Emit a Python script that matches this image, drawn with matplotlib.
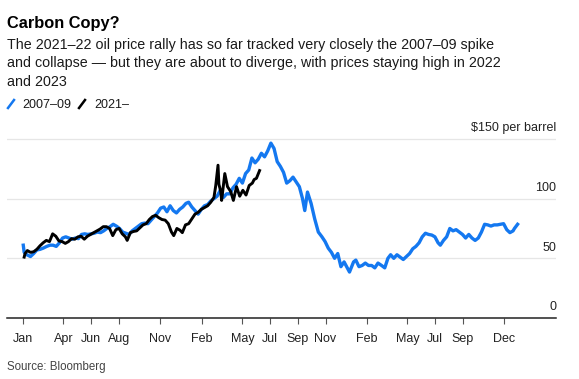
import pandas as pd
import matplotlib
matplotlib.use('Agg')
import matplotlib.pyplot as plt
from matplotlib.lines import Line2D

plt.rcParams['font.family'] = ['Liberation Sans', 'DejaVu Sans']

# 2007-09 oil price ($ per barrel)
blue_dates = [
    '2007-01-02', '2007-01-04', '2007-01-10', '2007-01-18', '2007-01-25', '2007-02-01', '2007-02-08',
    '2007-02-15', '2007-02-23', '2007-03-02', '2007-03-09', '2007-03-16', '2007-03-23', '2007-03-30',
    '2007-04-06', '2007-04-13', '2007-04-20', '2007-04-27', '2007-05-04', '2007-05-11', '2007-05-18',
    '2007-05-25', '2007-06-01', '2007-06-08', '2007-06-15', '2007-06-22', '2007-06-29', '2007-07-06',
    '2007-07-13', '2007-07-20', '2007-07-27', '2007-08-03', '2007-08-10', '2007-08-17', '2007-08-24',
    '2007-08-31', '2007-09-07', '2007-09-14', '2007-09-21', '2007-09-28', '2007-10-05', '2007-10-12',
    '2007-10-19', '2007-10-26', '2007-11-02', '2007-11-09', '2007-11-16', '2007-11-23', '2007-11-30',
    '2007-12-07', '2007-12-14', '2007-12-21', '2007-12-28',
    '2008-01-03', '2008-01-10', '2008-01-17', '2008-01-24', '2008-01-31', '2008-02-07', '2008-02-14',
    '2008-02-21', '2008-02-28', '2008-03-06', '2008-03-13', '2008-03-20', '2008-03-27', '2008-04-03',
    '2008-04-10', '2008-04-17', '2008-04-24', '2008-05-01', '2008-05-08', '2008-05-15', '2008-05-22',
    '2008-05-29', '2008-06-05', '2008-06-12', '2008-06-19', '2008-06-26', '2008-07-03', '2008-07-10',
    '2008-07-17', '2008-07-24', '2008-07-31', '2008-08-07', '2008-08-14', '2008-08-21', '2008-08-28',
    '2008-09-04', '2008-09-11', '2008-09-16', '2008-09-22', '2008-09-30', '2008-10-08', '2008-10-16',
    '2008-10-24', '2008-10-31', '2008-11-07', '2008-11-14', '2008-11-21', '2008-11-28', '2008-12-05',
    '2008-12-12', '2008-12-19', '2008-12-24',
    '2009-01-02', '2009-01-07', '2009-01-14', '2009-01-21', '2009-01-28', '2009-02-04', '2009-02-11',
    '2009-02-18', '2009-02-25', '2009-03-05', '2009-03-12', '2009-03-19', '2009-03-25', '2009-04-01',
    '2009-04-08', '2009-04-15', '2009-04-22', '2009-04-29', '2009-05-06', '2009-05-13', '2009-05-20',
    '2009-05-27', '2009-06-03', '2009-06-10', '2009-06-17', '2009-06-24', '2009-07-01', '2009-07-08',
    '2009-07-13', '2009-07-20', '2009-07-27', '2009-08-03', '2009-08-10', '2009-08-17', '2009-08-24',
    '2009-08-31', '2009-09-07', '2009-09-14', '2009-09-21', '2009-09-28', '2009-10-05', '2009-10-12',
    '2009-10-19', '2009-10-26', '2009-11-02', '2009-11-09', '2009-11-16', '2009-11-23', '2009-11-30',
    '2009-12-07', '2009-12-14', '2009-12-21', '2009-12-24', '2009-12-31',
]
blue_values = [
    61, 55, 53, 51.5, 54, 57, 57.5,
    58.5, 60, 61, 61, 60, 63, 67,
    68, 67, 66, 67, 66.5, 70, 70.5,
    70, 70.5, 71, 72, 71.5, 73, 75,
    76.5, 78.5, 77, 75, 72, 71, 70,
    73, 75, 77, 79, 79.5, 79, 82,
    85, 88, 92, 93, 89, 94, 90,
    88, 91, 93, 96,
    97, 93, 90, 87, 91, 94, 95,
    98, 100, 102, 107, 101, 104, 104,
    109, 112, 117, 113, 121, 124, 134,
    130, 133, 138, 135, 140, 146.5, 142,
    131, 127, 122, 113, 115, 118, 114,
    110, 100, 90, 105.5, 96, 83, 72,
    68, 64, 58.5, 55, 50, 54, 43,
    47, 42, 38.5,
    47, 48.5, 43, 44, 46, 44, 44,
    42, 46, 44, 42, 50, 53, 50,
    53, 51, 49, 51.5, 54, 58, 60,
    63, 68, 71, 70, 69.5, 68, 63,
    61, 65, 68, 75, 73, 74, 72,
    70, 67, 70, 67, 65, 67, 72,
    78.5, 78, 77, 78, 78, 78.5, 79,
    74, 71.5, 73, 75, 78.5,
]

# 2021-22 oil price ($ per barrel), drawn on the same calendar
black_dates = [
    '2021-01-04', '2021-01-06', '2021-01-11', '2021-01-18', '2021-01-25', '2021-02-01', '2021-02-08',
    '2021-02-15', '2021-02-22', '2021-03-01', '2021-03-08', '2021-03-15', '2021-03-22', '2021-03-29',
    '2021-04-05', '2021-04-12', '2021-04-19', '2021-04-26', '2021-05-03', '2021-05-10', '2021-05-17',
    '2021-05-24', '2021-05-31', '2021-06-07', '2021-06-14', '2021-06-21', '2021-06-28', '2021-07-05',
    '2021-07-12', '2021-07-19', '2021-07-26', '2021-08-02', '2021-08-09', '2021-08-16', '2021-08-20',
    '2021-08-27', '2021-09-03', '2021-09-10', '2021-09-17', '2021-09-24', '2021-10-01', '2021-10-08',
    '2021-10-15', '2021-10-22', '2021-10-29', '2021-11-05', '2021-11-12', '2021-11-19', '2021-11-26',
    '2021-12-01', '2021-12-08', '2021-12-15', '2021-12-20', '2021-12-27',
    '2022-01-03', '2022-01-10', '2022-01-17', '2022-01-24', '2022-01-31', '2022-02-07', '2022-02-14',
    '2022-02-21', '2022-02-28', '2022-03-03', '2022-03-08', '2022-03-10', '2022-03-14', '2022-03-16',
    '2022-03-23', '2022-03-29', '2022-04-05', '2022-04-11', '2022-04-18', '2022-04-25', '2022-05-02',
    '2022-05-09', '2022-05-16', '2022-05-23', '2022-05-27', '2022-06-01', '2022-06-08',
]
black_values = [
    51, 54, 56.5, 55, 55.5, 57.5, 60.5,
    63, 65, 64, 70.5, 68.5, 64.5, 64,
    62.5, 64, 66.5, 66, 68, 68.5, 66,
    68.5, 70, 71.5, 73, 74.5, 76.5, 76.5,
    75, 69, 74, 75, 70.5, 68, 65,
    71.5, 72.5, 73, 75.5, 78, 79, 82.5,
    85, 86, 84, 82.5, 82, 79, 72,
    69, 75, 73.5, 71.5, 78,
    79, 83, 87, 88.5, 91, 92.5, 94,
    97, 101, 111, 128, 112, 106, 98.5,
    121, 110, 106, 98.5, 110, 102, 107,
    103, 111, 113, 116, 117, 123.5,
]

tick_dates = ['2007-01-01', '2007-04-01', '2007-06-01', '2007-08-01', '2007-11-01',
              '2008-02-01', '2008-05-01', '2008-07-01', '2008-09-01', '2008-11-01',
              '2009-02-01', '2009-05-01', '2009-07-01', '2009-09-01', '2009-12-01']
tick_labels = ['Jan', 'Apr', 'Jun', 'Aug', 'Nov', 'Feb', 'May', 'Jul', 'Sep', 'Nov',
               'Feb', 'May', 'Jul', 'Sep', 'Dec']
y_levels = [0, 50, 100, 150]
y_labels = ['0', '50', '100', '$150 per barrel']

BLUE = '#1478f0'
W, H = 579, 379

fig = plt.figure(figsize=(W / 100, H / 100), dpi=100)


def fx(px):
    return px / W


def fy(py):
    return 1 - py / H


ax = fig.add_axes([fx(7), fy(318), fx(556) - fx(7), fy(127) - fy(318)])

bx = pd.to_datetime(blue_dates)
kx = pd.to_datetime(black_dates) - pd.DateOffset(years=14)

ax.plot(bx, blue_values, color=BLUE, lw=2.4, solid_joinstyle='round', zorder=3)
ax.plot(kx, black_values, color='black', lw=2.1, solid_joinstyle='round', zorder=4)

ax.set_xlim(pd.Timestamp('2006-11-27'), pd.Timestamp('2010-03-26'))
ax.set_ylim(0, 160)

for v in y_levels[1:]:
    ax.axhline(v, color='#e6e6e6', lw=0.9, zorder=1)

for v, lab in zip(y_levels, y_labels):
    ax.text(1.0, v + 6.5, lab, transform=ax.get_yaxis_transform(),
            ha='right', va='baseline', fontsize=9, color='#222222')

for s in ['top', 'right', 'left']:
    ax.spines[s].set_visible(False)
ax.spines['bottom'].set_color('#222222')
ax.spines['bottom'].set_linewidth(1.1)
ax.set_yticks([])
ax.set_xticks(pd.to_datetime(tick_dates))
ax.set_xticklabels(tick_labels)
ax.tick_params(axis='x', direction='out', length=4, width=0.8, color='#555555',
               labelsize=9, labelcolor='#222222', pad=7)

# header
fig.text(fx(7), fy(28), 'Carbon Copy?', fontsize=11.8, fontweight='bold',
         ha='left', va='baseline', color='black')
sub = ['The 2021\u201322 oil price rally has so far tracked very closely the 2007\u201309 spike',
       'and collapse \u2014 but they are about to diverge, with prices staying high in 2022',
       'and 2023']
for i, line in enumerate(sub):
    fig.text(fx(7), fy(48.5 + 18.8 * i), line, fontsize=10.3, ha='left', va='baseline',
             color='#1a1a1a')

# legend
fig.add_artist(Line2D([fx(8), fx(14)], [fy(108), fy(100)], color=BLUE, lw=1.8,
                      transform=fig.transFigure))
fig.text(fx(22), fy(108), '2007\u201309', fontsize=9, ha='left', va='baseline', color='#1a1a1a')
fig.add_artist(Line2D([fx(79), fx(85)], [fy(108), fy(100)], color='black', lw=1.8,
                      transform=fig.transFigure))
fig.text(fx(94), fy(108), '2021\u2013', fontsize=9, ha='left', va='baseline', color='#1a1a1a')

fig.text(fx(7), fy(370), 'Source: Bloomberg', fontsize=8.3, ha='left', va='baseline',
         color='#444444')

fig.savefig('out.png', dpi=100)
